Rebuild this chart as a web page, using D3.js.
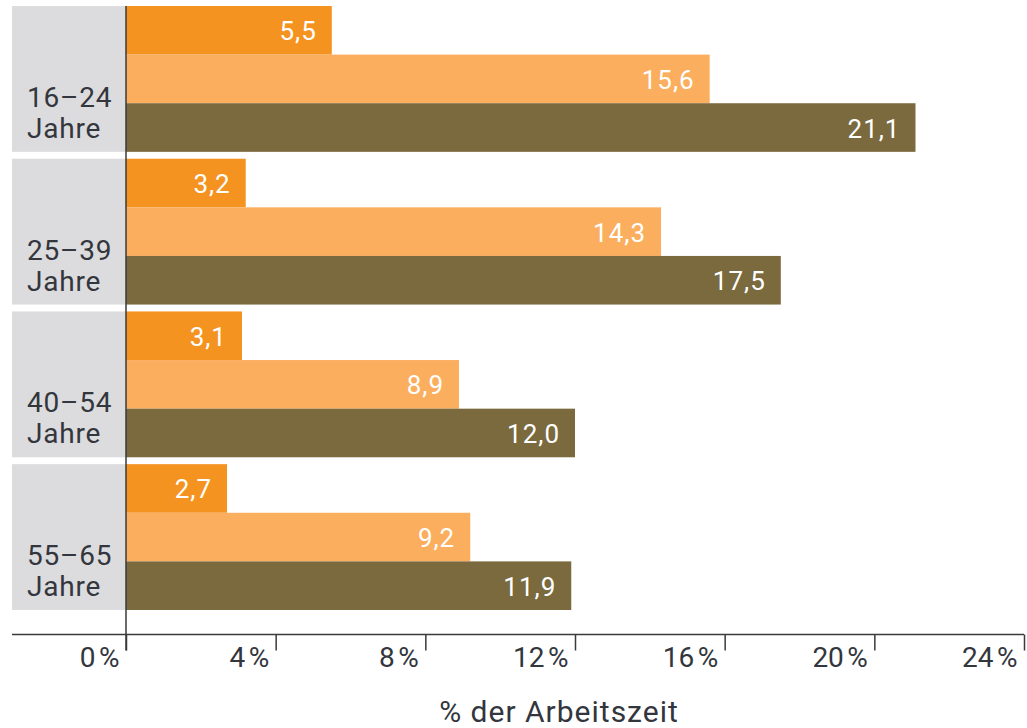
<!DOCTYPE html>
<html>
<head>
<meta charset="utf-8">
<script src="https://cdn.jsdelivr.net/npm/d3@7"></script>
<style>
  body { margin: 0; background: #fff; }
  text { font-family: Roboto, "DejaVu Sans", sans-serif; }
</style>
</head>
<body>
<div class="chart"></div>
<script>
const width = 1027
const height = 728

// data
const groups = ["16–24 Jahre", "25–39 Jahre", "40–54 Jahre", "55–65 Jahre"]
const series = ["s1", "s2", "s3"]
const values1 = [5.5, 3.2, 3.1, 2.7]
const values2 = [15.6, 14.3, 8.9, 9.2]
const values3 = [21.1, 17.5, 12.0, 11.9]
const ticks = [0, 4, 8, 12, 16, 20, 24]
const xTitle = "% der Arbeitszeit"

const colors = ["#f59320", "#fbae5e", "#7a6a3e"]
const textColor = "#33363d"

const data = []
groups.forEach((g, i) => {
    [values1, values2, values3].forEach((vals, j) => {
        data.push({group: g, series: series[j], value: vals[i]})
    })
})

const svg = d3.select(".chart")
    .append("svg")
    .attr("width", width)
    .attr("height", height)

const x0 = 126
const axisY = 634.5

const xScale = d3.scaleLinear()
    .domain([0, 24])
    .range([x0, 1024])

const yScale = d3.scaleBand()
    .domain(groups)
    .range([6, 610])
    .paddingInner(0.045)

const ySub = d3.scaleBand()
    .domain(series)
    .range([0, yScale.bandwidth()])

// grey label boxes
svg.selectAll("rect.box")
    .data(groups)
    .enter().append("rect")
        .attr("class", "box")
        .attr("x", 12)
        .attr("y", d => yScale(d))
        .attr("width", x0 - 12)
        .attr("height", yScale.bandwidth())
        .attr("fill", "#dcdcde")

// group labels
const labels = svg.selectAll("text.cat")
    .data(groups)
    .enter().append("text")
        .attr("class", "cat")
        .attr("x", 27)
        .attr("y", d => yScale(d) + 101)
        .style("font-size", "28px")
        .style("fill", textColor)
        .style("letter-spacing", "0.8px")

labels.append("tspan")
    .attr("x", 27)
    .text(d => d.split(" ")[0])
labels.append("tspan")
    .attr("x", 27)
    .attr("dy", 31)
    .text(d => d.split(" ")[1])

// bars
svg.selectAll("rect.bar")
    .data(data)
    .enter().append("rect")
        .attr("class", "bar")
        .attr("x", xScale(0))
        .attr("y", d => yScale(d.group) + ySub(d.series))
        .attr("width", d => xScale(d.value) - xScale(0))
        .attr("height", ySub.bandwidth())
        .attr("fill", d => colors[series.indexOf(d.series)])

// value labels
svg.selectAll("text.val")
    .data(data)
    .enter().append("text")
        .attr("class", "val")
        .attr("x", d => xScale(d.value) - 15)
        .attr("y", d => yScale(d.group) + ySub(d.series) + ySub.bandwidth() / 2 + 10)
        .attr("text-anchor", "end")
        .style("font-size", "26px")
        .style("letter-spacing", "1px")
        .style("fill", "#fff")
        .text(d => d3.format(".1f")(d.value).replace(".", ","))

// x axis
const axis = svg.append("g")
    .attr("transform", `translate(0, ${axisY})`)
    .call(d3.axisBottom(xScale).tickValues(ticks).tickSize(16).tickFormat(d => d + "\u202f%"))

axis.select("path.domain").remove()
axis.selectAll("g.tick line").attr("stroke", "#3a3a3a").attr("stroke-width", 1.5)
axis.selectAll("g.tick text")
    .attr("text-anchor", "end")
    .attr("x", -7)
    .attr("y", 32)
    .attr("dy", 0)
    .style("font-size", "28px")
    .style("font-family", "Roboto, sans-serif")
    .style("letter-spacing", "0.5px")
    .style("fill", textColor)

svg.append("line")
    .attr("x1", 12).attr("x2", 1024)
    .attr("y1", axisY).attr("y2", axisY)
    .attr("stroke", "#3a3a3a").attr("stroke-width", 1.5)

svg.append("line")
    .attr("x1", x0).attr("x2", x0)
    .attr("y1", 6).attr("y2", axisY + 16)
    .attr("stroke", "#3a3a3a").attr("stroke-width", 1.5)

// axis title
svg.append("text")
    .attr("x", 559)
    .attr("y", 722)
    .attr("text-anchor", "middle")
    .style("font-size", "30px")
    .style("letter-spacing", "1px")
    .style("fill", textColor)
    .text(xTitle)
</script>
</body>
</html>
